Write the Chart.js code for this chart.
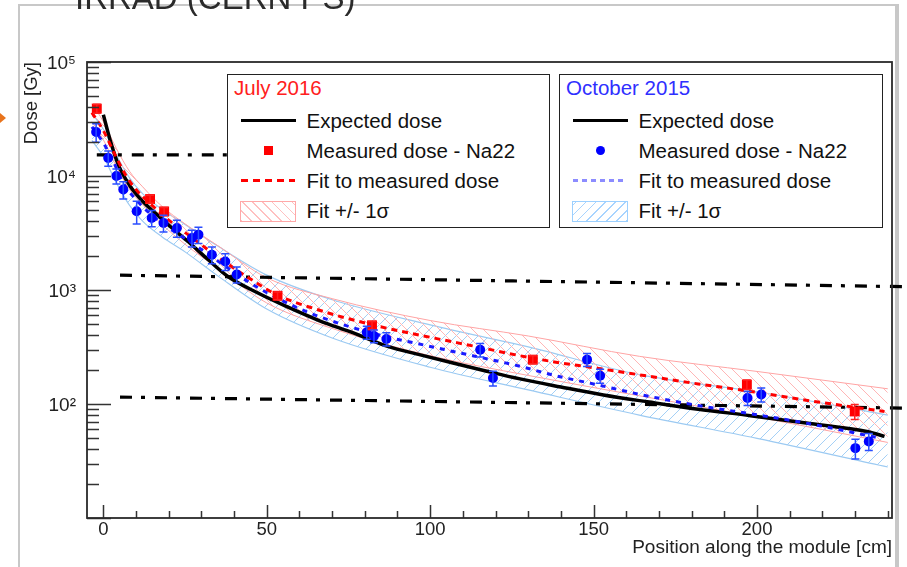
<!DOCTYPE html>
<html>
<head>
<meta charset="utf-8">
<title>IRRAD (CERN PS) - dose along the module</title>
<script src="https://cdn.jsdelivr.net/npm/chart.js@4.4.1/dist/chart.umd.min.js"></script>
<style>
  html, body { margin: 0; padding: 0; background: #fff; overflow: hidden; }
  body { width: 907px; height: 567px; position: relative; font-family: 'Liberation Sans', Arial, sans-serif; }

  #slide { position: absolute; left: 18px; top: 4px; width: 875px; height: 600px;
           border: 2.5px solid #c8c8c8; border-right-width: 4px; background: #fff; z-index: 0; }
  #title { position: absolute; left: 75px; top: -19px; font-size: 33px; line-height: 33px;
           color: #2a2a2a; white-space: nowrap; z-index: 3; }
  #arrow { position: absolute; left: 0; top: 113px; width: 0; height: 0; z-index: 3;
           border-left: 6px solid #e8731c; border-top: 5px solid transparent; border-bottom: 5px solid transparent; }
  #wrap  { position: absolute; left: 0; top: 0; width: 907px; height: 567px; z-index: 1; }

  .leg { position: absolute; top: 74px; height: 154px; box-sizing: border-box; border: 1.5px solid #222;
         background: #fff; font-size: 20.5px; color: #111; z-index: 2; }
  #legJuly { left: 227px; width: 323px; }
  #legOct  { left: 559px; width: 324px; }
  .leg .ttl { position: absolute; left: 6px; top: -2.5px; line-height: 30px; white-space: nowrap; }
  .leg .row { position: absolute; left: 0; width: 100%; height: 30px; line-height: 30px; }
  .leg .txt { position: absolute; left: 78.5px; white-space: nowrap; }
  .sw { position: absolute; box-sizing: border-box; }
  .sw.line { left: 12.5px; top: 13.5px; width: 55px; height: 3px; background: #000; }
  .sw.sq   { left: 35.5px; top: 10.5px; width: 9px; height: 9px; background: #f00; }
  .sw.dot  { left: 35.5px; top: 10.5px; width: 9px; height: 9px; border-radius: 50%; background: #00f; }
  .sw.dashR { left: 12.5px; top: 13.5px; width: 54px; height: 3px;
              background: repeating-linear-gradient(90deg, #f00 0 7px, transparent 7px 12px); }
  .sw.dashB { left: 12.5px; top: 13.5px; width: 54px; height: 2.5px;
              background: repeating-linear-gradient(90deg, #8c8cff 0 5px, transparent 5px 9px); }
  .sw.hatchR { left: 12px; top: 5px; width: 56px; height: 21px; border: 1px solid #ffa8a8;
               background: repeating-linear-gradient(45deg, #ffc0c0 0 1px, transparent 1px 7px); }
  .sw.hatchB { left: 12px; top: 5px; width: 56px; height: 21px; border: 1px solid #9cd0ff;
               background: repeating-linear-gradient(-45deg, #a8d4ff 0 1px, transparent 1px 7px); }
</style>
</head>
<body>
<div id="slide"></div>
<div id="title">IRRAD (CERN PS)</div>
<div id="arrow"></div>
<div id="wrap"><canvas id="dose"></canvas></div>

<div class="leg" id="legJuly">
  <div class="ttl" style="color:#ff2020">July 2016</div>
  <div class="row" style="top:30.5px"><span class="sw line"></span><span class="txt">Expected dose</span></div>
  <div class="row" style="top:60.5px"><span class="sw sq"></span><span class="txt">Measured dose - Na22</span></div>
  <div class="row" style="top:90.5px"><span class="sw dashR"></span><span class="txt">Fit to measured dose</span></div>
  <div class="row" style="top:120.5px"><span class="sw hatchR"></span><span class="txt">Fit +/- 1σ</span></div>
</div>
<div class="leg" id="legOct">
  <div class="ttl" style="color:#2f2fff">October 2015</div>
  <div class="row" style="top:30.5px"><span class="sw line"></span><span class="txt">Expected dose</span></div>
  <div class="row" style="top:60.5px"><span class="sw dot"></span><span class="txt">Measured dose - Na22</span></div>
  <div class="row" style="top:90.5px"><span class="sw dashB"></span><span class="txt">Fit to measured dose</span></div>
  <div class="row" style="top:120.5px"><span class="sw hatchB"></span><span class="txt">Fit +/- 1σ</span></div>
</div>

<script>
// axis labels
const xTickLabels = [0, 50, 100, 150, 200];
const yTickValues = [100, 1000, 10000, 100000];

// expected dose (simulation)
const expectedX = [0, 2, 4.6, 8, 12, 16, 21, 26, 32, 38, 47, 56, 66, 76.5, 87, 97, 107, 117, 127.5, 140, 153, 167, 182, 198, 215, 234, 239];
const expectedY = [34500, 21000, 12500, 8300, 6000, 4700, 3500, 2650, 1850, 1320, 950, 718, 540, 420, 320, 270, 229, 195, 166, 141, 120, 104, 90, 79, 68, 57, 52];

// July 2016 - measured (Na22) and fit
const julyX   = [-2, 14.3, 18.6, 53.3, 82.2, 131.4, 196.9, 229.9];
const julyY   = [39000, 6280, 4890, 890, 490, 245, 148, 86];
const julyErr = [3500, 500, 400, 70, 40, 20, 14, 13];

const julyFitX = [-3.5, 0, 3.6, 7, 10, 15, 20, 27, 35, 45, 53, 65, 82, 100, 115, 127.5, 138, 150, 167, 182, 198, 215, 239];
const julyFitY = [36000, 25000, 15300, 10000, 7600, 5500, 4100, 2900, 1950, 1250, 910, 680, 497, 385, 315, 265, 234, 208, 175, 150, 129, 108, 86];

// October 2015 - measured (Na22) and fit
const octX   = [-2.2, 1.5, 4, 6.1, 10.2, 14.8, 18.4, 22.5, 27.1, 29.1, 33.2, 37.3, 40.8, 80.6, 82.8, 86.6, 115.3, 119.2, 148, 152, 197.1, 201.3, 230.1, 234.2];
const octY   = [24300, 14400, 10000, 7600, 4900, 4280, 3870, 3500, 2860, 3060, 2040, 1780, 1370, 425, 395, 372, 299, 169, 245, 177, 113, 121, 41, 47];
const octErr = [4500, 2200, 1500, 1300, 1100, 700, 650, 600, 480, 500, 340, 300, 220, 55, 50, 50, 40, 25, 32, 25, 16, 17, 8, 8];

const octFitX = [-3.5, 0, 3, 6, 10, 15, 20, 27, 35, 45, 55, 65, 82, 100, 107, 127.5, 138, 150, 165, 182, 198, 215, 238];
const octFitY = [27000, 19500, 13500, 8800, 6200, 4500, 3500, 2600, 1800, 1150, 800, 600, 420, 320, 289, 214, 178, 150, 120, 97, 82, 68, 50];

// fit +/- 1 sigma bands
const bandX      = [-3.5, 0, 4, 8, 12, 18, 25, 35, 50, 70, 100, 130, 164, 200, 240];
const julyBandHi = [43000, 30000, 17400, 11000, 8050, 5400, 3800, 2450, 1280, 840, 540, 395, 262, 193, 136];
const julyBandLo = [30000, 20800, 12100, 7650, 5600, 3750, 2520, 1550, 770, 460, 265, 178, 118, 77, 46];
const octBandHi  = [35600, 25700, 15200, 9620, 7000, 5080, 3760, 2430, 1350, 822, 495, 317, 181, 128, 80];
const octBandLo  = [20500, 14800, 8700, 5540, 4020, 2920, 2160, 1330, 680, 379, 210, 133, 80, 50, 28];

// dash-dot reference levels drawn over the plot
const refLineX = [[-2, 38], [5.1, 246], [5.1, 246]];
const refLineY = [[15300, 15300], [1349, 1069], [115, 92]];


const SUP = { 1: '¹', 2: '²', 3: '³', 4: '⁴', 5: '⁵' };

function pts(xs, ys) {
    return xs.map((x, i) => ({ x: x, y: ys[i] }));
}

function hatch(color, forward) {
    const c = document.createElement('canvas');
    c.width = 11;
    c.height = 11;
    const g = c.getContext('2d');
    g.strokeStyle = color;
    g.lineWidth = 1;
    g.beginPath();
    if (forward) {
        // "/" lines
        g.moveTo(0, 11); g.lineTo(11, 0);
        g.moveTo(-1, 1); g.lineTo(1, -1);
        g.moveTo(10, 12); g.lineTo(12, 10);
    } else {
        // "\" lines
        g.moveTo(0, 0); g.lineTo(11, 11);
        g.moveTo(-1, 10); g.lineTo(1, 12);
        g.moveTo(10, -1); g.lineTo(12, 1);
    }
    g.stroke();
    return g.createPattern(c, 'repeat');
}

// ROOT style frame with inward ticks
const rootAxes = {
    id: 'rootAxes',
    afterDraw(chart) {
        const { ctx, chartArea: a, scales: { x, y } } = chart;
        ctx.save();
        ctx.strokeStyle = '#333';
        ctx.lineWidth = 1.5;
        ctx.beginPath();
        for (let v = 0; v <= 240; v += 10) {
            const px = Math.round(x.getPixelForValue(v)) + 0.5;
            const len = xTickLabels.includes(v) ? 13 : 7;
            ctx.moveTo(px, a.bottom);
            ctx.lineTo(px, a.bottom - len);
        }
        for (let d = 1; d <= 4; d++) {
            for (let m = 1; m <= 9; m++) {
                const py = Math.round(y.getPixelForValue(m * Math.pow(10, d))) + 0.5;
                const len = m === 1 ? 24 : 12;
                ctx.moveTo(a.left, py);
                ctx.lineTo(a.left + len, py);
            }
        }
        const pTop = Math.round(y.getPixelForValue(1e5)) + 0.5;
        ctx.moveTo(a.left, pTop);
        ctx.lineTo(a.left + 24, pTop);
        ctx.stroke();

        ctx.lineWidth = 1.8;
        ctx.strokeStyle = '#2a2a2a';
        ctx.strokeRect(a.left, a.top, a.right - a.left, a.bottom - a.top);
        ctx.restore();
    }
};

// vertical error bars with small caps
const errorBars = {
    id: 'errorBars',
    afterDatasetsDraw(chart) {
        const { ctx, scales: { y } } = chart;
        chart.data.datasets.forEach((ds, i) => {
            if (!ds.errors) return;
            const meta = chart.getDatasetMeta(i);
            ctx.save();
            ctx.strokeStyle = ds.errorColor;
            ctx.lineWidth = 1.5;
            ctx.beginPath();
            meta.data.forEach((pt, j) => {
                const v = ds.data[j].y;
                const e = ds.errors[j];
                const top = y.getPixelForValue(v + e);
                const bot = y.getPixelForValue(v - e);
                ctx.moveTo(pt.x, top); ctx.lineTo(pt.x, bot);
                ctx.moveTo(pt.x - 4, top); ctx.lineTo(pt.x + 4, top);
                ctx.moveTo(pt.x - 4, bot); ctx.lineTo(pt.x + 4, bot);
            });
            ctx.stroke();
            ctx.restore();
        });
    }
};

Chart.defaults.font.family = "'Liberation Sans', Arial, sans-serif";
Chart.defaults.color = '#222';

const refLines = refLineX.map((xs, i) => ({
    data: pts(xs, refLineY[i]),
    borderColor: '#000',
    borderWidth: 3.2,
    borderDash: [12, 9, 4, 10],
    pointRadius: 0,
    clip: false
}));

const doseChart = new Chart(
    document.getElementById('dose'),
    {
        type: 'line',

        data: {
            datasets: [
                {
                    data: pts(julyX, julyY),
                    errors: julyErr,
                    errorColor: '#ff2020',
                    showLine: false,
                    pointStyle: 'rect',
                    pointRadius: 7,
                    pointBackgroundColor: '#ff0000',
                    pointBorderWidth: 0
                },
                {
                    data: pts(octX, octY),
                    errors: octErr,
                    errorColor: '#2a4dff',
                    showLine: false,
                    pointStyle: 'circle',
                    pointRadius: 5,
                    pointBackgroundColor: '#0000ff',
                    pointBorderWidth: 0
                },
                {
                    data: pts(julyFitX, julyFitY),
                    borderColor: '#ff0000',
                    borderWidth: 3,
                    borderDash: [6, 5],
                    pointRadius: 0
                },
                {
                    data: pts(octFitX, octFitY),
                    borderColor: '#1a1aff',
                    borderWidth: 3,
                    borderDash: [5, 6],
                    pointRadius: 0
                },
                {
                    data: pts(expectedX, expectedY),
                    borderColor: '#000',
                    borderWidth: 3.5,
                    pointRadius: 0
                },
                ...refLines,
                {
                    data: pts(bandX, julyBandLo),
                    borderColor: '#ffa4a4',
                    borderWidth: 1,
                    pointRadius: 0,
                    fill: false
                },
                {
                    data: pts(bandX, julyBandHi),
                    borderColor: '#ffa4a4',
                    borderWidth: 1,
                    pointRadius: 0,
                    backgroundColor: hatch('#ffb6b6', false),
                    fill: '-1'
                },
                {
                    data: pts(bandX, octBandLo),
                    borderColor: '#9ccaf2',
                    borderWidth: 1.2,
                    pointRadius: 0,
                    fill: false
                },
                {
                    data: pts(bandX, octBandHi),
                    borderColor: '#9ccaf2',
                    borderWidth: 1.2,
                    pointRadius: 0,
                    backgroundColor: hatch('#a4d0f6', true),
                    fill: '-1'
                }
            ]
        },

        options: {
            responsive: true,
            maintainAspectRatio: false,
            animation: false,

            layout: {
                padding: { top: 62, right: 15, bottom: 0, left: 0 }
            },

            elements: {
                line: { cubicInterpolationMode: 'monotone' }
            },

            plugins: {
                legend: { display: false },
                tooltip: { enabled: false }
            },

            scales: {
                x: {
                    type: 'linear',
                    min: -5,
                    max: 241.3,
                    grid: { display: false, drawTicks: false },
                    border: { display: false },
                    afterBuildTicks: (s) => { s.ticks = xTickLabels.map(v => ({ value: v })); },
                    afterFit: (s) => { s.height = 49; },
                    ticks: {
                        color: '#222',
                        font: { size: 18.5 },
                        padding: 1,
                        maxRotation: 0,
                        autoSkip: false
                    },
                    title: {
                        display: true,
                        text: 'Position along the module [cm]',
                        align: 'end',
                        color: '#222',
                        font: { size: 19 },
                        padding: { top: 0, bottom: 8 }
                    }
                },

                y: {
                    type: 'logarithmic',
                    min: 10,
                    max: 100000,
                    grid: { display: false, drawTicks: false },
                    border: { display: false },
                    afterBuildTicks: (s) => { s.ticks = yTickValues.map(v => ({ value: v })); },
                    afterFit: (s) => { s.width = 87; },
                    ticks: {
                        color: '#222',
                        font: { size: 19 },
                        padding: 11,
                        labelOffset: 2,
                        autoSkip: false,
                        callback: (v) => '10' + SUP[Math.round(Math.log10(v))]
                    },
                    title: {
                        display: true,
                        text: 'Dose [Gy]',
                        align: 'end',
                        color: '#222',
                        font: { size: 18.5 },
                        padding: { top: 20.5, bottom: 0 }
                    }
                }
            }
        },

        plugins: [rootAxes, errorBars]
    }
);
</script>
</body>
</html>
